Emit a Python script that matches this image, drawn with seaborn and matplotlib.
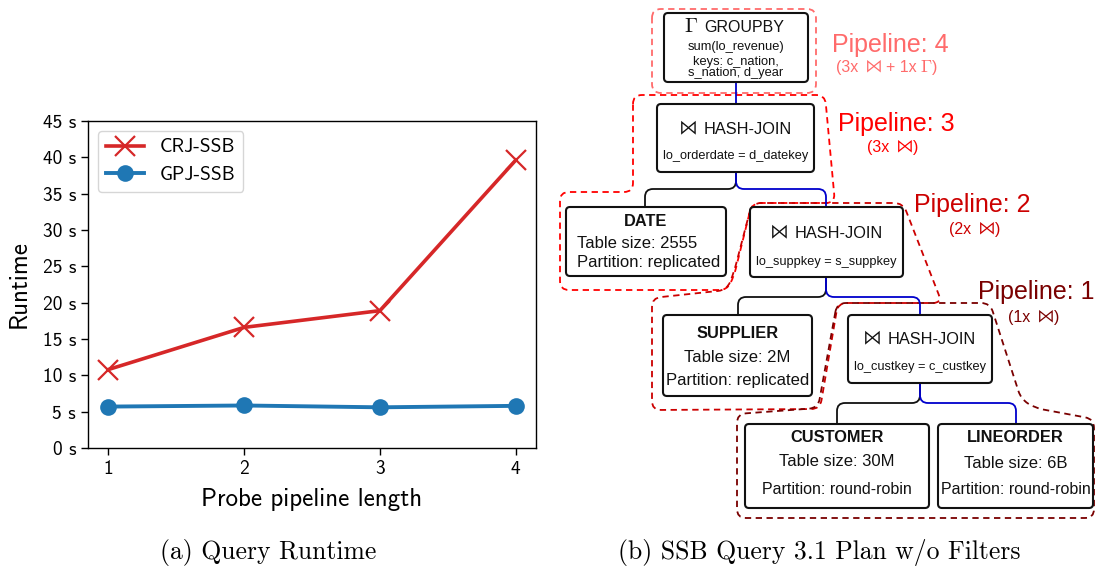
import numpy as np
import matplotlib
matplotlib.use("Agg")
import matplotlib.pyplot as plt
import seaborn as sns
from matplotlib.path import Path
from matplotlib.patches import PathPatch, FancyBboxPatch
from matplotlib.offsetbox import TextArea, HPacker, DrawingArea, AnnotationBbox

# ---------------- data ----------------
pipeline_lengths = [1, 2, 3, 4]
crj_runtime = [10.8, 16.6, 18.9, 39.6]
gpj_runtime = [5.7, 5.85, 5.6, 5.8]
series_names = ["CRJ-SSB", "GPJ-SSB"]
ytick_values = [0, 5, 10, 15, 20, 25, 30, 35, 40, 45]
ytick_labels = ["0 s", "5 s", "10 s", "15 s", "20 s", "25 s", "30 s", "35 s", "40 s", "45 s"]
xtick_labels = ["1", "2", "3", "4"]
captions = ["(a) Query Runtime", "(b) SSB Query 3.1 Plan w/o Filters"]

pipeline_titles = ["Pipeline: 4", "Pipeline: 3", "Pipeline: 2", "Pipeline: 1"]
pipeline_counts = ["3x", "3x", "2x", "1x"]
pipeline_colors = ["#ff6b6b", "#ff0000", "#cc0000", "#7a0000"]

plt.rcParams["mathtext.fontset"] = "cm"

W, H = 1097, 572
fig = plt.figure(figsize=(W / 100, H / 100), dpi=100)

# ---------------- left chart ----------------
ax = fig.add_axes([88 / W, (H - 448) / H, 448 / W, 327 / H], zorder=2)
sf = "cmss10"
sns.lineplot(x=pipeline_lengths, y=crj_runtime, ax=ax, color="#d62728", lw=2.6,
             marker="x", markersize=14, mew=1.6, mec="#d62728", label=series_names[0])
sns.lineplot(x=pipeline_lengths, y=gpj_runtime, ax=ax, color="#1f77b4", lw=2.8,
             marker="o", markersize=12, mew=0, mec="#1f77b4", label=series_names[1])
ax.set_ylim(0, 45)
ax.set_xlim(0.85, 4.15)
ax.set_yticks(ytick_values)
ax.set_yticklabels(ytick_labels, family=sf, fontsize=14)
ax.set_xticks(pipeline_lengths)
ax.set_xticklabels(xtick_labels, family=sf, fontsize=14)
ax.tick_params(length=5, width=1)
for s in ax.spines.values():
    s.set_linewidth(1.0)
ax.set_xlabel("Probe pipeline length", family=sf, fontsize=18, labelpad=7)
ax.set_ylabel("Runtime", family=sf, fontsize=18, labelpad=9)
leg = ax.legend(loc="upper left", prop={"family": sf, "size": 14}, borderaxespad=0.5)

# ---------------- right diagram ----------------
dax = fig.add_axes([0, 0, 1, 1], zorder=1)
dax.set_xlim(0, W)
dax.set_ylim(H, 0)
dax.axis("off")

fam = ["Liberation Sans", "DejaVu Sans"]


def rounded_path(pts, r):
    n = len(pts)
    verts, codes = [], []
    for i in range(n):
        p0 = np.array(pts[i - 1], float)
        p1 = np.array(pts[i], float)
        p2 = np.array(pts[(i + 1) % n], float)
        d1 = p0 - p1
        d2 = p2 - p1
        l1 = np.hypot(*d1)
        l2 = np.hypot(*d2)
        rr = min(r, l1 / 2, l2 / 2)
        a = p1 + d1 / l1 * rr
        b = p1 + d2 / l2 * rr
        verts.append(a)
        codes.append(Path.MOVETO if i == 0 else Path.LINETO)
        verts += [p1, b]
        codes += [Path.CURVE3, Path.CURVE3]
    verts.append(verts[0])
    codes.append(Path.LINETO)
    return Path(verts, codes)


def region(pts, color, r=9):
    dax.add_patch(PathPatch(rounded_path(pts, r), fill=False, edgecolor=color,
                            lw=1.3, linestyle=(0, (3.5, 2.5))))


def elbow(x0, y0, x1, y1, ym, color, r=8):
    s = np.sign(x1 - x0)
    verts = [(x0, y0), (x0, ym - r), (x0, ym), (x0 + s * r, ym), (x1 - s * r, ym),
             (x1, ym), (x1, ym + r), (x1, y1)]
    codes = [Path.MOVETO, Path.LINETO, Path.CURVE3, Path.CURVE3, Path.LINETO,
             Path.CURVE3, Path.CURVE3, Path.LINETO]
    dax.add_patch(PathPatch(Path(verts, codes), fill=False, edgecolor=color, lw=1.3))


def box(x0, y0, x1, y1):
    dax.add_patch(FancyBboxPatch((x0, y0), x1 - x0, y1 - y0,
                                 boxstyle="round,pad=0,rounding_size=4",
                                 facecolor="white", edgecolor="#111111", lw=1.5, zorder=3))


def txt(x, y, s, size, weight="normal", ha="center", color="#111111"):
    dax.text(x, y, s, fontsize=size, fontweight=weight, ha=ha, va="center",
             color=color, family=fam, zorder=4)


def rich(x, y, parts, color="#111111"):
    """parts: list of (text, fontsize) or a number = horizontal gap in points."""
    kids = []
    for p in parts:
        if isinstance(p, (int, float)):
            kids.append(DrawingArea(p, 1))
        else:
            s, fs = p
            kids.append(TextArea(s, textprops=dict(fontsize=fs, color=color, family=fam)))
    pack = HPacker(children=kids, align="baseline", pad=0, sep=0)
    ab = AnnotationBbox(pack, (x, y), xycoords="data", frameon=False,
                        box_alignment=(0.5, 0.5), pad=0, zorder=5)
    dax.add_artist(ab)


# pipeline regions
region([(652, 9), (816, 9), (816, 93), (652, 93)], pipeline_colors[0])
region([(633, 95), (825, 95), (835, 203), (752, 203), (734, 276), (727, 290),
        (560, 290), (560, 192), (633, 192)], pipeline_colors[1])
region([(752, 203), (903, 203), (942, 303), (838, 303), (820, 409), (652, 410),
        (652, 298), (727, 290), (734, 272)], pipeline_colors[2])
region([(837, 303), (990, 303), (1021, 399), (1035, 408), (1094, 419), (1094, 518),
        (737, 518), (737, 414), (818, 408)], pipeline_colors[3])

# connectors
dax.plot([736, 736], [82, 104], color="#0000cc", lw=1.3)
elbow(736, 172, 645, 207, 189, "#111111")
elbow(736, 172, 826, 207, 189, "#0000cc")
elbow(826, 277, 738, 315, 297, "#111111")
elbow(826, 277, 920, 315, 297, "#0000cc")
elbow(920, 383, 837, 424, 403, "#111111")
elbow(920, 383, 1016, 424, 403, "#0000cc")

BOW = "$\\bowtie$"
GAM = "$\\Gamma$"

# boxes
box(664, 13, 808, 82)
rich(734, 26, [(GAM, 15), 4, ("GROUPBY", 11.5)])
txt(736, 47, "sum(lo_revenue)", 9.3)
txt(736, 61.5, "keys: c_nation,", 9.3)
txt(736, 73, "s_nation, d_year", 9.3)

box(657, 104, 814, 172)
rich(734, 128, [(BOW, 15), 5, ("HASH-JOIN", 11.8)])
txt(735.5, 156, "lo_orderdate = d_datekey", 9.2)

box(566, 207, 726, 276)
txt(646, 221, "DATE", 11.8, weight="bold")
txt(577, 243, "Table size: 2555", 12, ha="left")
txt(577, 262, "Partition: replicated", 12, ha="left")

box(750, 207, 903, 277)
rich(825, 232, [(BOW, 15), 5, ("HASH-JOIN", 11.8)])
txt(826.5, 262, "lo_suppkey = s_suppkey", 9.2)

box(663, 315, 812, 396)
txt(737.5, 333, "SUPPLIER", 11.8, weight="bold")
txt(737.5, 358, "Table size: 2M", 12)
txt(737.5, 380, "Partition: replicated", 12)

box(848, 315, 992, 383)
rich(918, 338, [(BOW, 15), 5, ("HASH-JOIN", 11.8)])
txt(920, 367, "lo_custkey = c_custkey", 9.2)

box(745, 424, 929, 508)
txt(837, 438, "CUSTOMER", 11.8, weight="bold")
txt(837, 461, "Table size: 30M", 12)
txt(837, 489, "Partition: round-robin", 11.5)

box(938, 424, 1093, 508)
txt(1015.5, 438, "LINEORDER", 11.8, weight="bold")
txt(1015.5, 463, "Table size: 6B", 12)
txt(1015.5, 489, "Partition: round-robin", 11.5)

# pipeline labels
label_pos = [(890, 45, 887, 67), (896, 124, 893, 147), (972, 205, 975, 229), (1036, 292, 1034, 317)]
for i, ((tx, ty, nx, ny), t, cnt, c) in enumerate(zip(label_pos, pipeline_titles,
                                                      pipeline_counts, pipeline_colors)):
    dax.text(tx, ty, t, fontsize=18, color=c, ha="center", va="center", family=fam)
    parts = [("(" + cnt, 11.5), 2.5, (BOW, 14)]
    if i == 0:
        parts += [2.5, ("+ 1x", 11.5), 2.5, (GAM, 13)]
    parts += [(")", 11.5)]
    rich(nx, ny, parts, color=c)

# captions
fig.text(268 / W, 1 - 552 / H, captions[0], ha="center", va="center", family="cmr10", fontsize=18.5)
fig.text(819 / W, 1 - 552 / H, captions[1], ha="center", va="center", family="cmr10", fontsize=18.5)

fig.savefig("out.png", dpi=100)
